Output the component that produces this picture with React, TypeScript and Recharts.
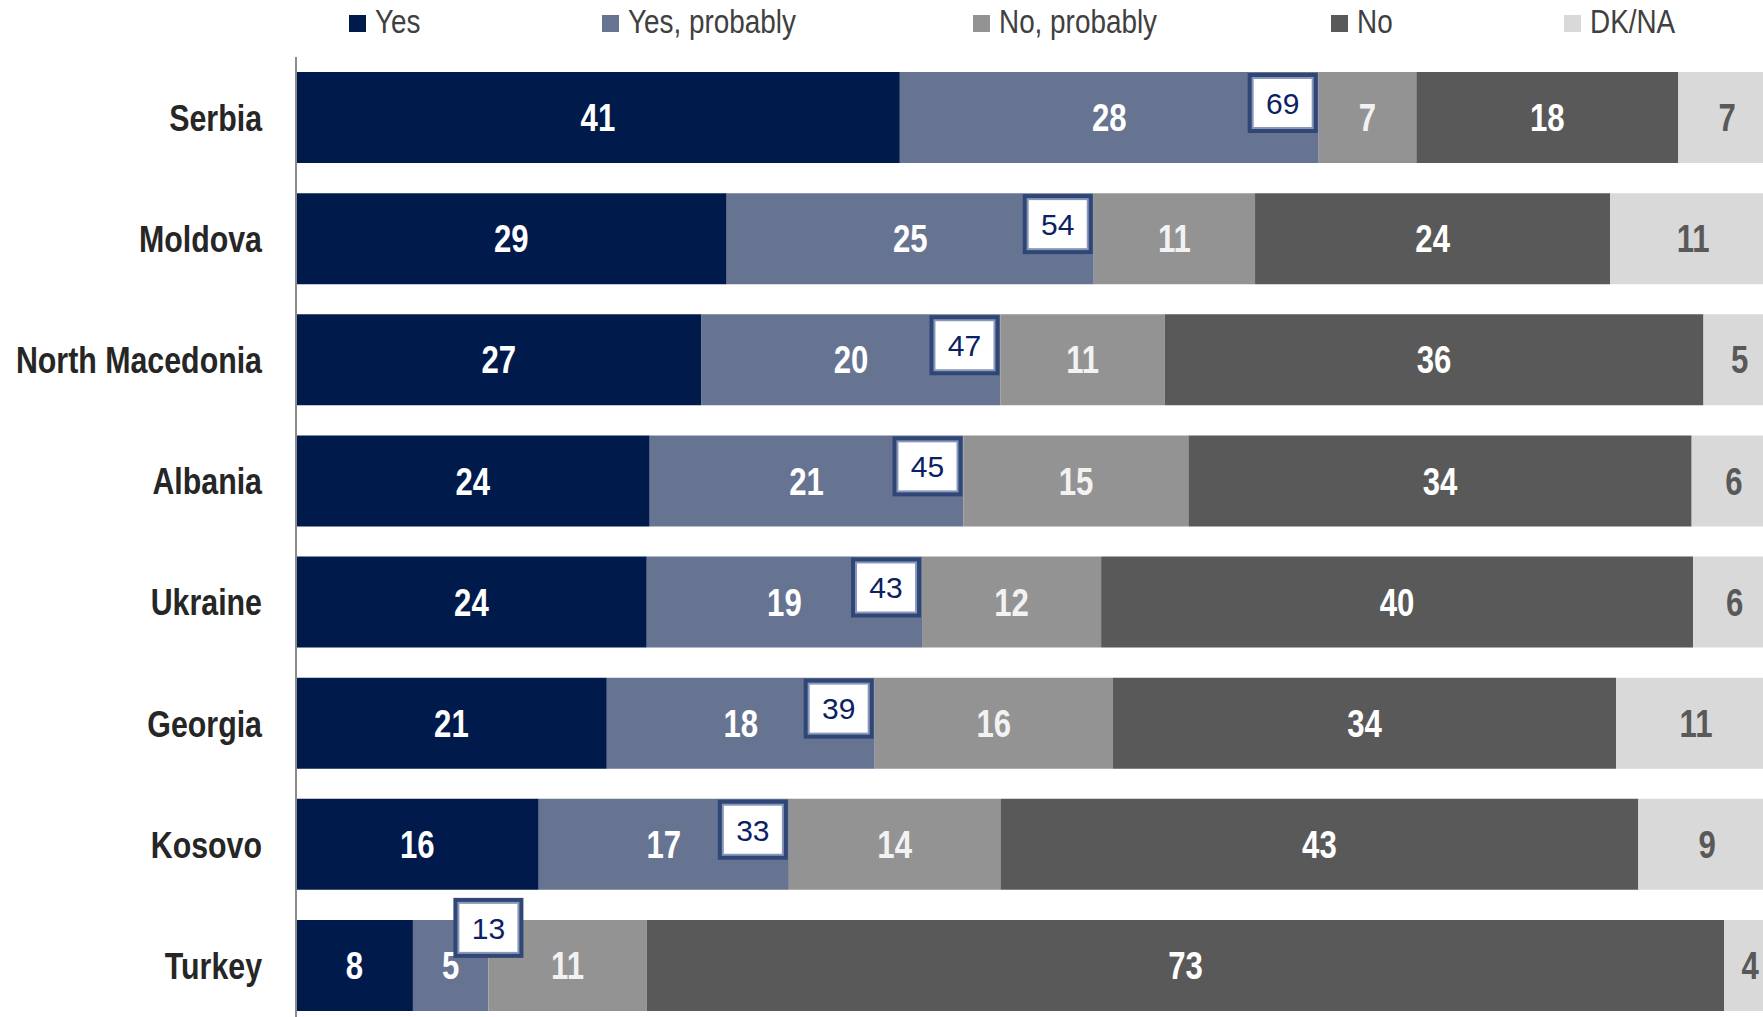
import { BarChart, Bar, XAxis, YAxis, LabelList } from 'recharts';

const COUNTRIES = ['Serbia', 'Moldova', 'North Macedonia', 'Albania', 'Ukraine', 'Georgia', 'Kosovo', 'Turkey'];
const YES = [40.8, 29.1, 27.4, 23.9, 23.7, 21.0, 16.4, 7.9];
const YES_PROBABLY = [28.3, 24.8, 20.2, 21.2, 18.6, 18.1, 16.9, 5.1];
const NO_PROBABLY = [6.6, 10.9, 11.1, 15.2, 12.1, 16.1, 14.3, 10.7];
const NO = [17.7, 24.0, 36.4, 34.0, 40.0, 34.0, 43.1, 72.8];
const DK_NA = [6.6, 11.2, 4.9, 5.7, 5.6, 10.8, 9.4, 3.6];
const YES_TOTAL = [69, 54, 47, 45, 43, 39, 33, 13];

const SERIES = [
  { key: 'yes', name: 'Yes', color: '#001a4c', text: '#ffffff' },
  { key: 'yesProbably', name: 'Yes, probably', color: '#667492', text: '#ffffff' },
  { key: 'noProbably', name: 'No, probably', color: '#939393', text: '#f2f2f2' },
  { key: 'no', name: 'No', color: '#595959', text: '#ffffff' },
  { key: 'dkna', name: 'DK/NA', color: '#d9d9d9', text: '#595959' },
];

const data = COUNTRIES.map((country, i) => ({
  country,
  yes: YES[i],
  yesProbably: YES_PROBABLY[i],
  noProbably: NO_PROBABLY[i],
  no: NO[i],
  dkna: DK_NA[i],
}));

// no narrow face installed, so squeeze Liberation Sans horizontally
const FONT = '"Liberation Sans", Arial, sans-serif';
const SQUEEZE = 0.82;
const LEGEND_X = [349, 602, 973, 1331, 1564];
const BOX_W = 70;
const BOX_H = 60;

function NarrowText({ x, y, children, ...rest }: any) {
  return (
    <text transform={`translate(${x} ${y}) scale(${SQUEEZE} 1)`} fontFamily={FONT} {...rest}>
      {children}
    </text>
  );
}

function geom(props: any) {
  const vb = props.viewBox || {};
  return {
    x: props.x ?? vb.x,
    y: props.y ?? vb.y,
    width: props.width ?? vb.width,
    height: props.height ?? vb.height,
  };
}

const segmentLabel = (color: string) => (props: any) => {
  const { x, y, width, height } = geom(props);
  if (x == null || !props.value) return null;
  return (
    <NarrowText x={x + width / 2} y={y + height / 2} dy="0.36em" textAnchor="middle" fill={color} fontWeight={700} fontSize={38}>
      {Math.round(props.value)}
    </NarrowText>
  );
};

// "No" segment: its own value plus the boxed yes total, drawn over the earlier segments
const noLabel = (color: string) => (props: any) => {
  const { x, y, width } = geom(props);
  const i = props.index;
  if (x == null || i == null) return null;
  const unit = width / NO[i];
  const end = x - NO_PROBABLY[i] * unit;
  const cramped = YES_PROBABLY[i] * unit < BOX_W + 10;
  const bx = cramped ? end - BOX_W / 2 : end - BOX_W - 1;
  const by = cramped ? y - 22 : y + 1;
  return (
    <g>
      {segmentLabel(color)(props)}
      <rect x={bx} y={by} width={BOX_W} height={BOX_H} fill="#2f4677" />
      <rect x={bx + 4} y={by + 4} width={BOX_W - 8} height={BOX_H - 8} fill="#8a98b8" />
      <rect x={bx + 6} y={by + 6} width={BOX_W - 12} height={BOX_H - 12} fill="#ffffff" />
      <text
        x={bx + BOX_W / 2}
        y={by + BOX_H / 2}
        dy="0.36em"
        textAnchor="middle"
        fill="#0b2163"
        fontFamily={FONT}
        fontSize={30}
      >
        {YES_TOTAL[i]}
      </text>
    </g>
  );
};

function CountryTick(props: any) {
  const { x, y, payload } = props;
  return (
    <NarrowText x={x} y={y} dy="0.36em" textAnchor="end" fill="#262626" fontWeight={700} fontSize={37}>
      {payload.value}
    </NarrowText>
  );
}

export default function App() {
  return (
    <div
      style={{
        position: 'absolute',
        left: 0,
        top: 0,
        width: 1763,
        height: 1017,
        overflow: 'hidden',
        background: '#ffffff',
      }}
    >
      <BarChart
        width={1776}
        height={1026}
        data={data}
        layout="vertical"
        margin={{ top: 57, right: 0, bottom: 0, left: 0 }}
        barCategoryGap={15}
      >
        <XAxis type="number" hide domain={[0, 100]} allowDataOverflow />
        <YAxis
          type="category"
          dataKey="country"
          width={296}
          axisLine={{ stroke: '#8c8c8c', strokeWidth: 2 }}
          tickLine={false}
          tickSize={0}
          tickMargin={34}
          tick={<CountryTick />}
          interval={0}
        />
        {SERIES.map((s) => (
          <Bar key={s.key} dataKey={s.key} name={s.name} stackId="a" fill={s.color} isAnimationActive={false}>
            <LabelList dataKey={s.key} content={s.key === 'no' ? noLabel(s.text) : segmentLabel(s.text)} />
          </Bar>
        ))}
      </BarChart>
      <svg width={1763} height={50} style={{ position: 'absolute', left: 0, top: 0 }}>
        {SERIES.map((s, k) => (
          <g key={s.key}>
            <rect x={LEGEND_X[k]} y={15} width={17} height={17} fill={s.color} />
            <NarrowText x={LEGEND_X[k] + 26} y={33} fill="#404040" fontSize={34}>
              {s.name}
            </NarrowText>
          </g>
        ))}
      </svg>
    </div>
  );
}
